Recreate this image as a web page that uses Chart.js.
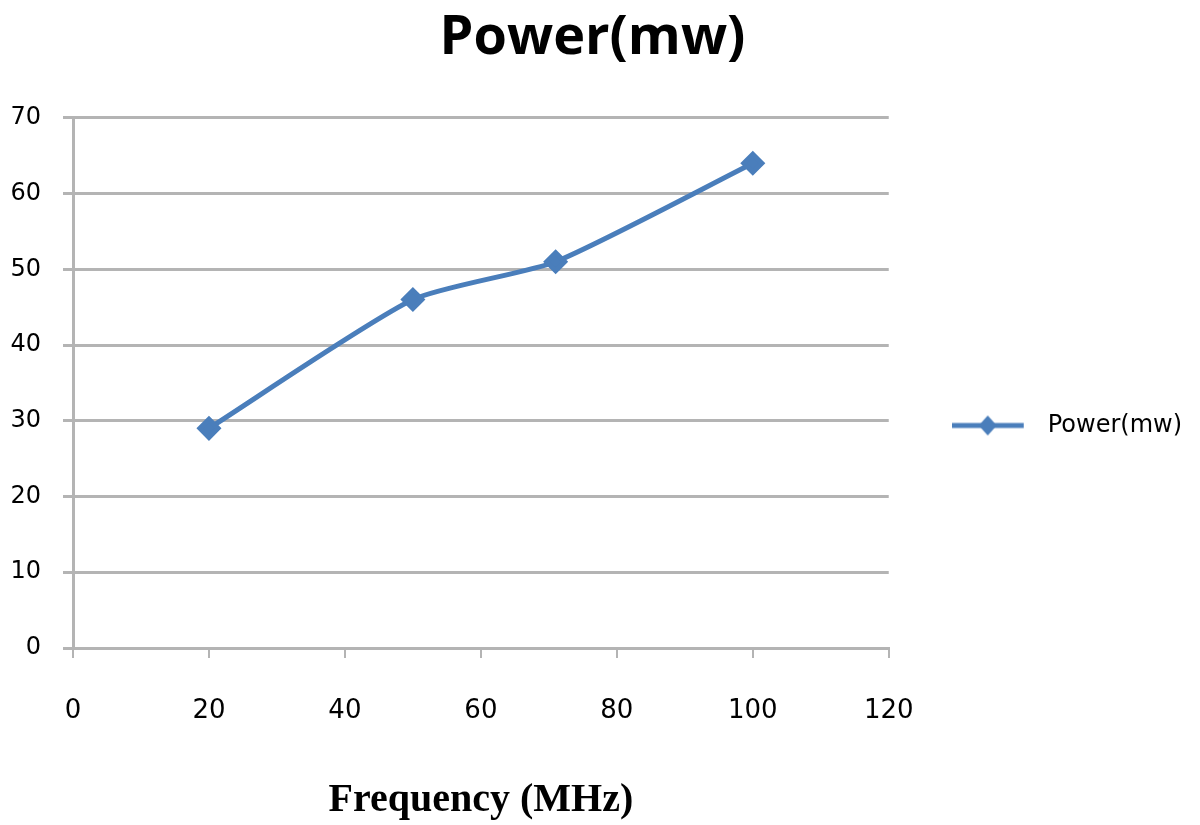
<!DOCTYPE html>
<html>
<head>
<meta charset="utf-8">
<script src="https://cdn.jsdelivr.net/npm/chart.js@4/dist/chart.umd.min.js"></script>
<style>
  html, body { margin: 0; padding: 0; background: #fff; }
  #wrap { width: 1200px; height: 825px; }
</style>
</head>
<body>
<div id="wrap"><canvas id="power-chart" width="1200" height="825"></canvas></div>
<script>
// frequency (MHz) and power (mw)
const frequency = [20, 50, 71, 100];
const power = [29, 46, 51, 64];
const seriesName = 'Power(mw)';
const xTitle = 'Frequency (MHz)';

const blue = '#4a7ebb';
const gridGray = '#b4b4b4';

// legend marker: short line with a diamond in the middle
const makeLegendMarker = () => {
    const c = document.createElement('canvas');
    c.width = 84;
    c.height = 22;
    const g = c.getContext('2d');
    g.strokeStyle = blue;
    g.lineWidth = 5;
    g.beginPath();
    g.moveTo(0, 11);
    g.lineTo(72, 11);
    g.stroke();
    g.fillStyle = blue;
    g.beginPath();
    g.moveTo(36, 1);
    g.lineTo(45, 11);
    g.lineTo(36, 21);
    g.lineTo(27, 11);
    g.closePath();
    g.fill();
    return c;
};
const legendMarker = makeLegendMarker();

const ctx = document.getElementById('power-chart').getContext('2d');
new Chart(ctx, {
    type: 'line',
    data: {
        datasets: [{
            label: seriesName,
            data: frequency.map((f, i) => ({ x: f, y: power[i] })),
            borderColor: blue,
            backgroundColor: blue,
            borderWidth: 5,
            tension: 0.2,
            pointStyle: 'rectRot',
            pointRadius: 9,
            pointHoverRadius: 9,
            fill: false,
        }],
    },
    options: {
        responsive: false,
        animation: false,
        layout: { padding: { left: 0, right: 15, top: 0, bottom: 0 } },
        plugins: {
            title: {
                display: true,
                text: seriesName,
                color: '#000',
                font: { family: 'Open Sans', size: 54, weight: 'bold' },
                padding: { top: 6, bottom: 47 },
            },
            legend: {
                position: 'right',
                title: {
                    display: true,
                    text: '',
                    font: { size: 10 },
                    padding: { top: 0, bottom: 14 },
                },
                labels: {
                    usePointStyle: true,
                    pointStyleWidth: 84,
                    color: '#000',
                    font: { family: 'DejaVu Sans', size: 24 },
                    padding: 63,
                    // trailing nbsp gives the clipped legend box a little room
                    generateLabels: () => [{
                        text: seriesName + '\u00a0\u00a0',
                        pointStyle: legendMarker,
                        fillStyle: blue,
                        strokeStyle: blue,
                        fontColor: '#000',
                        lineWidth: 0,
                        datasetIndex: 0,
                    }],
                },
            },
            tooltip: { enabled: false },
        },
        scales: {
            x: {
                type: 'linear',
                min: 0,
                max: 120,
                ticks: {
                    stepSize: 20,
                    color: '#000',
                    font: { family: 'DejaVu Sans', size: 26 },
                    padding: 38,
                },
                grid: {
                    drawOnChartArea: false,
                    drawTicks: true,
                    tickLength: 10,
                    color: gridGray,
                    lineWidth: 2,
                },
                border: { color: gridGray, width: 3 },
                title: {
                    display: true,
                    text: xTitle,
                    color: '#000',
                    font: { family: 'Liberation Serif', size: 40, weight: 'bold' },
                    padding: { top: 34, bottom: 0 },
                },
                afterFit: (scale) => { scale.height = 177; },
            },
            y: {
                min: 0,
                max: 70,
                ticks: {
                    stepSize: 10,
                    color: '#000',
                    font: { family: 'DejaVu Sans', size: 24 },
                    padding: 22,
                },
                grid: {
                    color: gridGray,
                    lineWidth: 3,
                    tickLength: 10,
                },
                border: { color: gridGray, width: 3 },
                afterFit: (scale) => { scale.width = 73; },
            },
        },
    },
});
</script>
</body>
</html>
